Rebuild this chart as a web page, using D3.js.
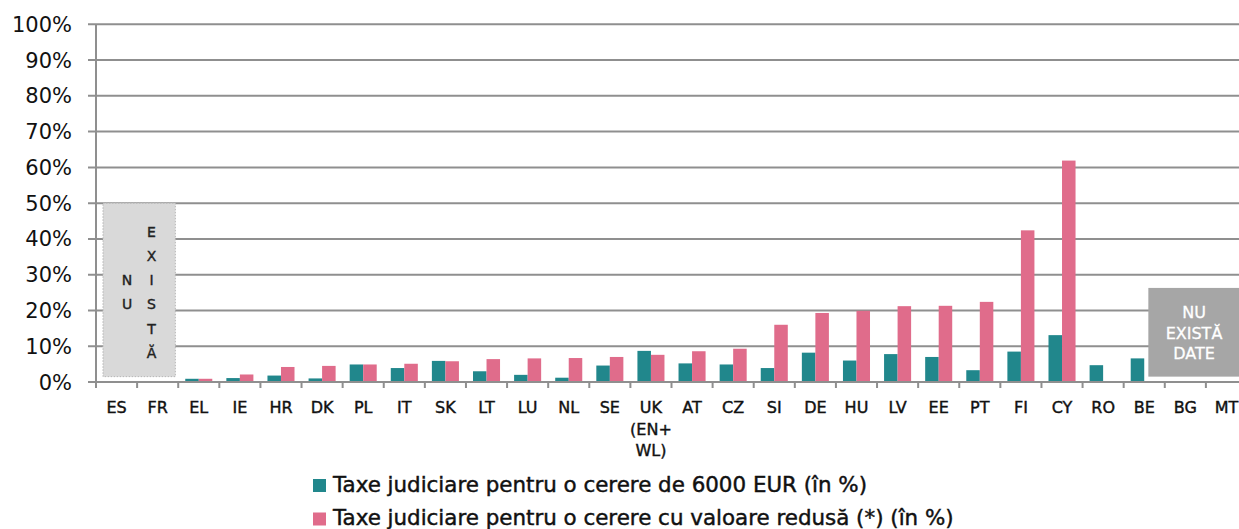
<!DOCTYPE html>
<html>
<head>
<meta charset="utf-8">
<script src="https://cdn.jsdelivr.net/npm/d3@7"></script>
<style>
html,body{margin:0;padding:0;background:#fff;}
svg{display:block;}
text{font-family:"DejaVu Sans",sans-serif;}
</style>
</head>
<body>
<svg id="chart" width="1239" height="529"></svg>
<script>
const categories = ["ES","FR","EL","IE","HR","DK","PL","IT","SK","LT","LU","NL","SE","UK (EN+ WL)","AT","CZ","SI","DE","HU","LV","EE","PT","FI","CY","RO","BE","BG","MT"];
const categoryLabels = [["ES"],["FR"],["EL"],["IE"],["HR"],["DK"],["PL"],["IT"],["SK"],["LT"],["LU"],["NL"],["SE"],["UK","(EN+","WL)"],["AT"],["CZ"],["SI"],["DE"],["HU"],["LV"],["EE"],["PT"],["FI"],["CY"],["RO"],["BE"],["BG"],["MT"]];
const fee6000 = [null,null,0.9,1.1,1.8,1.0,4.9,3.9,5.9,3.0,2.0,1.2,4.6,8.7,5.2,4.9,3.9,8.2,6.0,7.8,7.0,3.3,8.5,13.1,4.7,6.6,null,null];
const feeLow  = [null,null,0.9,2.1,4.2,4.5,4.9,5.1,5.8,6.4,6.6,6.7,7.0,7.6,8.6,9.3,16.0,19.3,19.9,21.2,21.3,22.4,42.4,61.9,null,null,null,null];
const seriesNames = ["Taxe judiciare pentru o cerere de 6000 EUR (în %)","Taxe judiciare pentru o cerere cu valoare redusă (*) (în %)"];
const seriesColors = ["#21878c","#e06c8b"];
const yTicks = [0,10,20,30,40,50,60,70,80,90,100];
const noDataLeft = {cols:[["N","U"],["E","X","I","S","T","Ă"]]};
const noDataRight = ["NU","EXISTĂ","DATE"];

(function(){
const svg = d3.select("#chart");
const pL = 96, pR = 1247, pT = 24.3, pB = 382;
const x = d3.scaleBand().domain(categories).range([pL, pR]).padding(0);
const bw = x.bandwidth();
const xs = d3.scaleBand().domain([0,1]).range([0, bw]).paddingInner(0).paddingOuter(0.52);
const y = d3.scaleLinear().domain([0,100]).range([pB, pT]);
const gridColor = "#8f8f8f";
const cond = "DejaVu Sans Condensed";

svg.append("g").selectAll("line").data(yTicks).join("line")
  .attr("x1", pL - 8).attr("x2", pR)
  .attr("y1", d => y(d)).attr("y2", d => y(d))
  .attr("stroke", gridColor).attr("stroke-width", 2);

svg.append("g").selectAll("text").data(yTicks).join("text")
  .attr("x", 72).attr("y", d => y(d)).attr("dy", "0.36em")
  .attr("text-anchor", "end").attr("font-size", 21).attr("fill", "#111")
  .text(d => d + "%");

svg.append("line").attr("x1", pL).attr("x2", pL).attr("y1", pT).attr("y2", pB + 6)
  .attr("stroke", gridColor).attr("stroke-width", 2);

const bounds = categories.map(c => x(c)).concat([pR]);
svg.append("g").selectAll("line").data(bounds).join("line")
  .attr("x1", d => d).attr("x2", d => d).attr("y1", pB).attr("y2", pB + 6)
  .attr("stroke", gridColor).attr("stroke-width", 2);

const series = [fee6000, feeLow];
series.forEach((vals, si) => {
  svg.append("g").selectAll("rect").data(categories.map((c,i)=>({c, v: vals[i]})).filter(d => d.v != null)).join("rect")
    .attr("x", d => x(d.c) + xs(si))
    .attr("width", xs.bandwidth())
    .attr("y", d => y(d.v))
    .attr("height", d => y(0) - y(d.v) - 1)
    .attr("fill", seriesColors[si]);
});

const xl = svg.append("g");
categories.forEach((c, i) => {
  const t = xl.append("text").attr("x", x(c) + bw/2).attr("y", 413.3)
    .attr("text-anchor", "middle").attr("font-size", 16).attr("font-family", cond)
    .attr("fill", "#111").attr("stroke", "#111").attr("stroke-width", 0.4);
  categoryLabels[i].forEach((line, li) => {
    t.append("tspan").attr("x", x(c) + bw/2).attr("y", 413.3 + li*21.5).text(line);
  });
});

const lx0 = x("ES") + 0.17*bw, lx1 = x("FR") + 0.93*bw;
svg.append("rect").attr("x", lx0).attr("y", y(50)).attr("width", lx1 - lx0).attr("height", y(1.5) - y(50))
  .attr("fill", "#d9d9d9").attr("stroke", "#b5b5b5").attr("stroke-width", 1).attr("stroke-dasharray", "1.5,1.5");
const colX = [127, 151.5];
const lettersLeft = svg.append("g");
noDataLeft.cols[0].forEach((ch, k) => lettersLeft.append("text").attr("x", colX[0]).attr("y", 280 + k*24.2).attr("dy","0.36em")
  .attr("text-anchor","middle").attr("font-size", 14).attr("font-family", cond).attr("fill","#222")
  .attr("stroke","#222").attr("stroke-width",0.4).text(ch));
noDataLeft.cols[1].forEach((ch, k) => lettersLeft.append("text").attr("x", colX[1]).attr("y", 231.7 + k*24.2).attr("dy","0.36em")
  .attr("text-anchor","middle").attr("font-size", 14).attr("font-family", cond).attr("fill","#222")
  .attr("stroke","#222").attr("stroke-width",0.4).text(ch));

const rx0 = x("BE") + 0.6*bw;
svg.append("rect").attr("x", rx0).attr("y", y(26.3)).attr("width", pR - rx0).attr("height", y(1.5) - y(26.3))
  .attr("fill", "#a6a6a6");
noDataRight.forEach((s, k) => svg.append("text").attr("x", 1194).attr("y", 312 + k*20.8).attr("dy","0.36em")
  .attr("text-anchor","middle").attr("font-size", 16).attr("font-family", cond)
  .attr("fill","#fff").attr("stroke","#fff").attr("stroke-width",0.3).text(s));

seriesNames.forEach((name, i) => {
  const base = 491.7 + i*33.5;
  svg.append("rect").attr("x", 313).attr("y", base - 12.7).attr("width", 13).attr("height", 13).attr("fill", seriesColors[i]);
  svg.append("text").attr("x", 333).attr("y", base)
    .attr("font-size", 21.4).attr("font-family", cond).attr("fill", "#111")
    .attr("stroke", "#111").attr("stroke-width", 0.45).text(name);
});
})();
</script>
</body>
</html>
